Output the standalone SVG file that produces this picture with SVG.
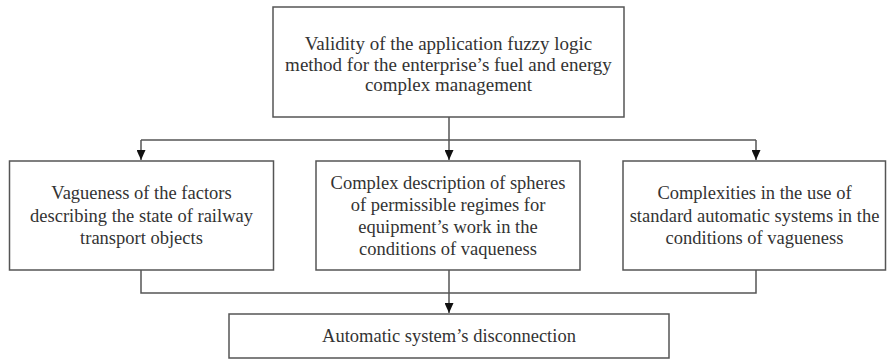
<svg xmlns="http://www.w3.org/2000/svg" width="887" height="361" viewBox="0 0 887 361">
<defs>
<marker id="ah" viewBox="0 0 10 10" refX="10" refY="5" markerWidth="10" markerHeight="9" markerUnits="userSpaceOnUse" orient="auto" preserveAspectRatio="none">
<path d="M0,0 L10,5 L0,10 Z" fill="#111"/>
</marker>
<style>
.box{fill:#fff;stroke:#555;stroke-width:1.5}
.t{font-family:"Liberation Serif","Times New Roman",serif;font-size:18.5px;fill:#333;text-anchor:middle}
.tt{font-size:19px}
.c{fill:none;stroke:#555;stroke-width:1.5}
</style>
</defs>
<rect width="887" height="361" fill="#fff"/>
<g id="connectors">
<line class="c" x1="449" y1="117" x2="449" y2="140"/>
<line class="c" x1="141" y1="140" x2="756" y2="140"/>
<line class="c" x1="141" y1="140" x2="141" y2="160" marker-end="url(#ah)"/>
<line class="c" x1="449" y1="140" x2="449" y2="160" marker-end="url(#ah)"/>
<line class="c" x1="756" y1="140" x2="756" y2="160" marker-end="url(#ah)"/>
<polyline class="c" points="141,270 141,293 756,293 756,270"/>
<line class="c" x1="449" y1="270" x2="449" y2="313" marker-end="url(#ah)"/>
</g>
<g id="top">
<rect class="box" x="273" y="7" width="351" height="110"/>
<text class="t tt" x="448.5" y="50">Validity of the application fuzzy logic</text>
<text class="t tt" x="448.5" y="71">method for the enterprise’s fuel and energy</text>
<text class="t tt" x="448.5" y="91">complex management</text>
</g>
<g id="left">
<rect class="box" x="9.5" y="161" width="264" height="109"/>
<text class="t" x="141.5" y="199">Vagueness of the factors</text>
<text class="t" x="141.5" y="221.5">describing the state of railway</text>
<text class="t" x="141.5" y="244">transport objects</text>
</g>
<g id="middle">
<rect class="box" x="316" y="161" width="264" height="109"/>
<text class="t" x="448" y="189">Complex description of spheres</text>
<text class="t" x="448" y="211">of permissible regimes for</text>
<text class="t" x="448" y="233">equipment’s work in the</text>
<text class="t" x="448" y="255">conditions of vaqueness</text>
</g>
<g id="right">
<rect class="box" x="623" y="161" width="262.5" height="109"/>
<text class="t" x="754.5" y="199">Complexities in the use of</text>
<text class="t" x="754.5" y="221.5">standard automatic systems in the</text>
<text class="t" x="754.5" y="243.5">conditions of vagueness</text>
</g>
<g id="bottom">
<rect class="box" x="229" y="314" width="440" height="44"/>
<text class="t" x="449" y="341.5">Automatic system’s disconnection</text>
</g>
</svg>
